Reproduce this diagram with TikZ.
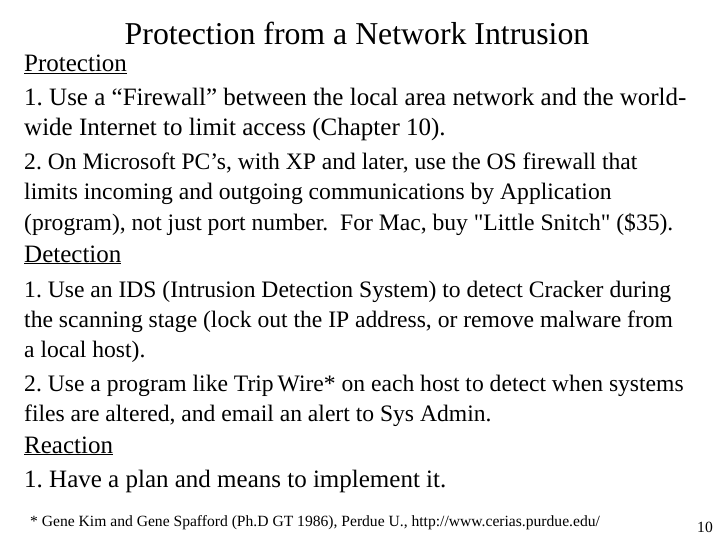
\documentclass[tikz,border=0pt]{standalone}
\usepackage{fontspec}
\setmainfont{Liberation Serif}
\begin{document}
\frenchspacing
\begin{tikzpicture}[x=1pt,y=-1pt,
  body/.style={anchor=base west,inner sep=0,font=\fontsize{25}{28}\selectfont},
  bodyn/.style={anchor=base west,inner sep=0,font=\fontsize{23.6}{28}\selectfont},
  ttl/.style={anchor=base,inner sep=0,font=\fontsize{31.8}{34}\selectfont},
  foot/.style={anchor=base west,inner sep=0,font=\fontsize{15.6}{18}\selectfont}]
\useasboundingbox[fill=white] (0,0) rectangle (720,540);
\node[ttl] (t) at (357,45) {Protection from a Network Intrusion};
\node[body] (h1) at (24,72) {\underline{Protection}};
\node[body] (a1) at (24,106) {1. Use a “Firewall” between the local area network and the world-};
\node[body] (a2) at (24,136) {wide Internet to limit access (Chapter 10).};
\node[bodyn] (a3) at (24,170) {2. On Microsoft PC’s, with XP and later, use the OS firewall that};
\node[bodyn] (a4) at (24,200) {limits incoming and outgoing communications by Application};
\node[bodyn] (a5) at (24,230) {(program), not just port number.\ \ For Mac, buy \textquotedbl Little Snitch\textquotedbl{} (\$35).};
\node[body] (h2) at (24,262) {\underline{Detection}};
\node[bodyn] (b1) at (24,297) {1. Use an IDS (Intrusion Detection System) to detect Cracker during};
\node[bodyn] (b2) at (24,327) {the scanning stage (lock out the IP address, or remove malware from};
\node[bodyn] (b3) at (24,357) {a local host).};
\node[bodyn] (b4) at (24,391) {2. Use a program like Trip\,Wire* on each host to detect when systems};
\node[bodyn] (b5) at (24,421) {files are altered, and email an alert to Sys Admin.};
\node[body] (h3) at (24,453) {\underline{Reaction}};
\node[body] (c1) at (24,487) {1. Have a plan and means to implement it.};
\node[foot] (f) at (30,526) {* Gene Kim and Gene Spafford (Ph.D GT 1986), Perdue U., http://www.cerias.purdue.edu/};
\node[foot] (n) at (697,532) {10};
\end{tikzpicture}
\end{document}
